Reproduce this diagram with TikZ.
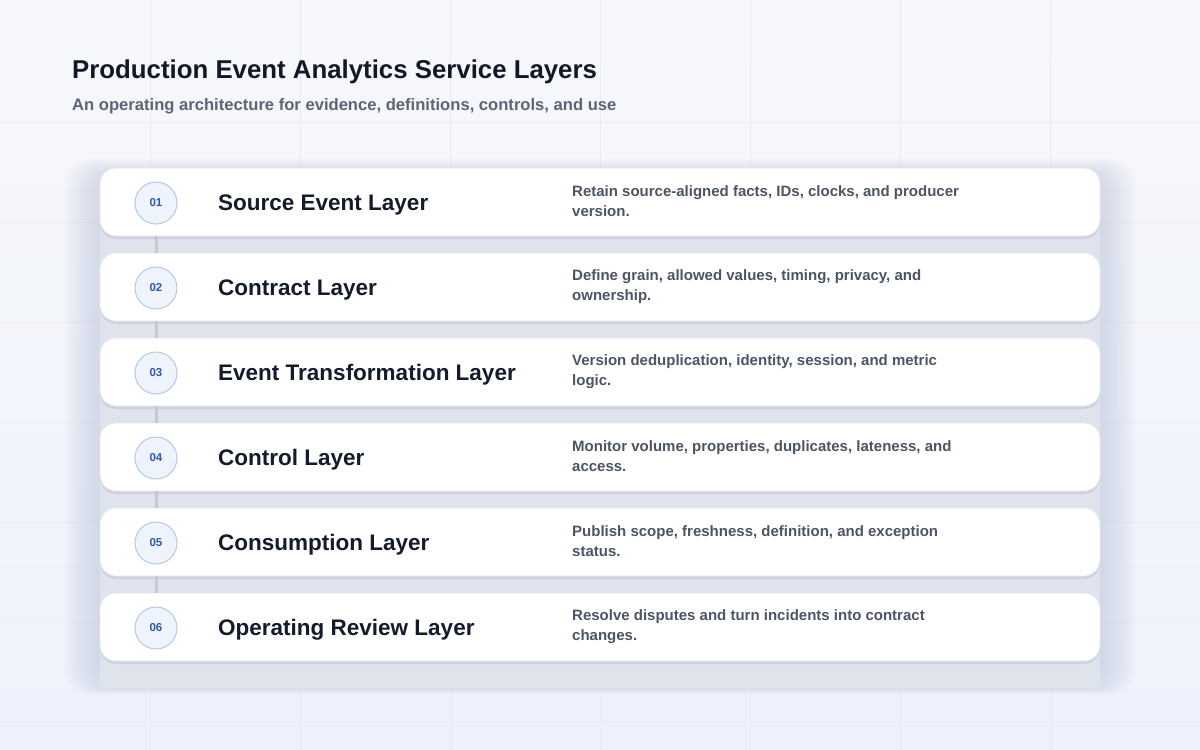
\documentclass[tikz,border=0pt]{standalone}
\usepackage{fontspec}
\setmainfont{Liberation Sans}
\definecolor{bgtop}{HTML}{F7F8FB}
\definecolor{bgbot}{HTML}{EDF2FC}
\definecolor{gridc}{HTML}{E9ECF3}
\definecolor{titlec}{HTML}{111827}
\definecolor{subc}{HTML}{5B6577}
\definecolor{namec}{HTML}{141B2D}
\definecolor{descc}{HTML}{4B5563}
\definecolor{circfill}{HTML}{EEF3FC}
\definecolor{circline}{HTML}{B7C8E6}
\definecolor{numc}{HTML}{2D5AA6}
\definecolor{linkc}{HTML}{C5C9D3}
\definecolor{panelc}{HTML}{DFE3EC}
\definecolor{shadowc}{HTML}{9AA3B8}
\definecolor{cardedge}{HTML}{E3E7EF}
\tikzset{
  card/.style={draw=cardedge, line width=0.6pt, fill=white, rounded corners=16pt},
  cardshadow/.style={fill=shadowc, opacity=0.25, rounded corners=16pt},
  numcirc/.style={circle, minimum size=42pt, inner sep=0pt, fill=circfill, draw=circline, line width=1pt,
    font=\bfseries\fontsize{11.5}{12}\selectfont, text=numc},
  layername/.style={anchor=west, font=\bfseries\fontsize{22.5}{24}\selectfont, text=namec, inner sep=0pt},
  desc/.style={anchor=west, align=left, font=\bfseries\fontsize{15}{20}\selectfont, text=descc, inner sep=0pt},
  link/.style={draw=linkc, line width=3pt}
}
\begin{document}
\begin{tikzpicture}[x=1pt,y=-1pt]
\useasboundingbox (0,0) rectangle (1200,750);
\shade[top color=bgtop, bottom color=bgbot] (0,0) rectangle (1200,750);
% faint grid
\foreach \gx in {150,300,...,1050} \draw[gridc, line width=0.6pt] (\gx,0) -- (\gx,750);
\foreach \gy in {122,222,...,722} \draw[gridc, line width=0.6pt] (0,\gy) -- (1200,\gy);
% soft halo behind the stack
\foreach \k in {1,...,18}
  \fill[shadowc, opacity=0.016, rounded corners=24pt] (100-2*\k,176-\k) rectangle (1100+2*\k,684+0.6*\k);
\fill[panelc] (100,180) rectangle (1100,688);
% title
\node[anchor=base west, inner sep=0pt, text=titlec, font=\bfseries\fontsize{25.8}{28}\selectfont] (title) at (72,78) {Production Event Analytics Service Layers};
\node[anchor=base west, inner sep=0pt, text=subc, font=\bfseries\fontsize{16.6}{18}\selectfont] (subtitle) at (72,110) {An operating architecture for evidence, definitions, controls, and use};
% cards
\foreach \i/\num/\name/\la/\lb in {
  1/01/Source Event Layer/{Retain source-aligned facts, IDs, clocks, and producer}/{version.},
  2/02/Contract Layer/{Define grain, allowed values, timing, privacy, and}/{ownership.},
  3/03/Event Transformation Layer/{Version deduplication, identity, session, and metric}/{logic.},
  4/04/Control Layer/{Monitor volume, properties, duplicates, lateness, and}/{access.},
  5/05/Consumption Layer/{Publish scope, freshness, definition, and exception}/{status.},
  6/06/Operating Review Layer/{Resolve disputes and turn incidents into contract}/{changes.}}
{
  \pgfmathsetmacro{\top}{168+85*(\i-1)}
  \pgfmathsetmacro{\mid}{\top+34}
  \fill[cardshadow] (100,\top+3) rectangle (1100,\top+71);
  \draw[card] (100,\top) rectangle (1100,\top+68);
  \coordinate (cardtop\i) at (156,\top);
  \coordinate (cardbot\i) at (156,\top+68);
  \node[numcirc] (num\i) at (156,\mid+1) {\num};
  \node[layername] (name\i) at (218,\mid+2.5) {\name};
  \node[desc] (desc\i) at (572,\mid-0.5) {\la\\\lb};
}
\foreach \i/\j in {1/2,2/3,3/4,4/5,5/6}
  \draw[link] (cardbot\i) -- (cardtop\j);
\end{tikzpicture}
\end{document}
